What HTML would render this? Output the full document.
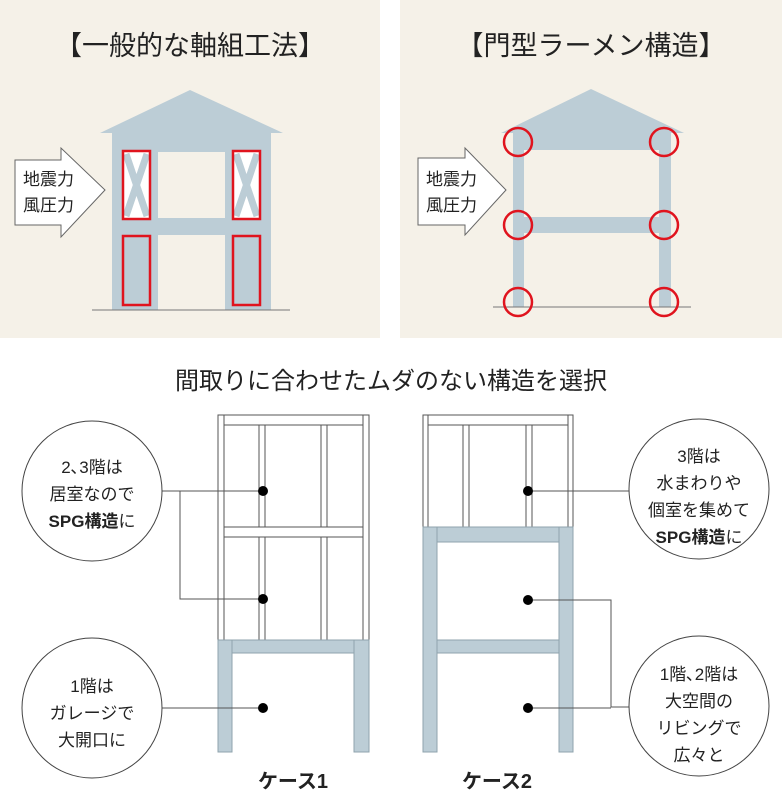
<!DOCTYPE html>
<html><head><meta charset="utf-8"><style>
html,body{margin:0;padding:0;background:#fff}
svg{display:block}
text{font-family:"Liberation Sans","Noto Sans CJK JP",sans-serif;fill:#222}
</style></head><body>
<svg width="782" height="802" viewBox="0 0 782 802" xmlns="http://www.w3.org/2000/svg">
<!-- panels -->
<rect x="0" y="0" width="380" height="338" fill="#f5f1e8"/>
<rect x="400" y="0" width="382" height="338" fill="#f5f1e8"/>
<text x="190" y="55" font-size="27" text-anchor="middle">【一般的な軸組工法】</text>
<text x="591" y="55" font-size="27" text-anchor="middle">【門型ラーメン構造】</text>

<!-- left house -->
<polygon points="100,133 190,90 283,133" fill="#bccdd6"/>
<rect x="112" y="132" width="159" height="178" fill="#bccdd6"/>
<rect x="158" y="152" width="67" height="66" fill="#f5f1e8"/>
<rect x="158" y="235" width="67" height="75" fill="#f5f1e8"/>
<rect x="123" y="151" width="27" height="68" fill="#fff"/>
<rect x="233" y="151" width="27" height="68" fill="#fff"/>
<path d="M126,154 L147,216 M147,154 L126,216 M236,154 L257,216 M257,154 L236,216" stroke="#bccdd6" stroke-width="7"/>
<g fill="none" stroke="#e0141e" stroke-width="2.5">
<rect x="123" y="151" width="27" height="68"/>
<rect x="233" y="151" width="27" height="68"/>
<rect x="123" y="236" width="27" height="69"/>
<rect x="233" y="236" width="27" height="69"/>
</g>
<line x1="92" y1="310" x2="290" y2="310" stroke="#777" stroke-width="1"/>
<polygon points="15,160 61,160 61,148 105,190 61,237 61,225 15,225" fill="#fff" stroke="#666" stroke-width="1"/>
<text x="23" y="185" font-size="17">地震力</text>
<text x="23" y="211" font-size="17">風圧力</text>

<!-- right house -->
<polygon points="501,133 591,89 684,133" fill="#bccdd6"/>
<rect x="513" y="132" width="158" height="18" fill="#bccdd6"/>
<rect x="513" y="132" width="11" height="175" fill="#bccdd6"/>
<rect x="659" y="132" width="12" height="175" fill="#bccdd6"/>
<rect x="524" y="217" width="135" height="16" fill="#bccdd6"/>
<line x1="493" y1="307" x2="691" y2="307" stroke="#777" stroke-width="1"/>
<g fill="none" stroke="#e0141e" stroke-width="2.5">
<circle cx="518" cy="142" r="14"/><circle cx="664" cy="142" r="14"/>
<circle cx="518" cy="225" r="14"/><circle cx="664" cy="225" r="14"/>
<circle cx="518" cy="302" r="14"/><circle cx="664" cy="302" r="14"/>
</g>
<polygon points="418,158 465,158 465,148 506,190 465,235 465,225 418,225" fill="#fff" stroke="#666" stroke-width="1"/>
<text x="426" y="185" font-size="17">地震力</text>
<text x="426" y="211" font-size="17">風圧力</text>

<text x="391" y="389" font-size="24" text-anchor="middle">間取りに合わせたムダのない構造を選択</text>

<!-- case 1 -->
<g fill="#fff" stroke="#555" stroke-width="1">
<rect x="218" y="415" width="151" height="10"/>
<rect x="218" y="415" width="6" height="225"/>
<rect x="363" y="415" width="6" height="225"/>
<rect x="259" y="425" width="6" height="215"/>
<rect x="321" y="425" width="6" height="215"/>
<rect x="224" y="527" width="139" height="10"/>
</g>
<g fill="#bccdd6" stroke="#8fa3ad" stroke-width="1">
<rect x="232" y="640" width="122" height="13"/>
<rect x="218" y="640" width="14" height="112"/>
<rect x="354" y="640" width="15" height="112"/>
</g>
<!-- case 2 -->
<g fill="#fff" stroke="#555" stroke-width="1">
<rect x="423" y="415" width="150" height="10"/>
<rect x="423" y="415" width="5" height="112"/>
<rect x="568" y="415" width="5" height="112"/>
<rect x="463" y="425" width="6" height="102"/>
<rect x="526" y="425" width="6" height="102"/>
</g>
<g fill="#bccdd6" stroke="#8fa3ad" stroke-width="1">
<rect x="437" y="527" width="122" height="15"/>
<rect x="437" y="640" width="122" height="13"/>
<rect x="423" y="527" width="14" height="225"/>
<rect x="559" y="527" width="14" height="225"/>
</g>

<!-- connectors -->
<g stroke="#555" stroke-width="1" fill="none">
<polyline points="162,491 263,491"/>
<polyline points="180,491 180,599 263,599"/>
<polyline points="162,708 263,708"/>
<polyline points="528,491 629,491"/>
<polyline points="528,600 611,600 611,707 629,707"/>
<polyline points="528,708 611,708"/>
</g>
<g fill="#000">
<circle cx="263" cy="491" r="5"/><circle cx="263" cy="599" r="5"/><circle cx="263" cy="708" r="5"/>
<circle cx="528" cy="491" r="5"/><circle cx="528" cy="600" r="5"/><circle cx="528" cy="708" r="5"/>
</g>

<!-- callout circles -->
<g fill="#fff" stroke="#444" stroke-width="1">
<circle cx="92" cy="491" r="70"/>
<circle cx="92" cy="708" r="70"/>
<circle cx="699" cy="489" r="70"/>
<circle cx="699" cy="706" r="70"/>
</g>
<g font-size="17" text-anchor="middle">
<text x="92" y="473">2､3階は</text>
<text x="92" y="500">居室なので</text>
<text x="92" y="527" font-weight="bold">SPG構造<tspan font-weight="normal">に</tspan></text>
<text x="92" y="692">1階は</text>
<text x="92" y="719">ガレージで</text>
<text x="92" y="746">大開口に</text>
<text x="699" y="462">3階は</text>
<text x="699" y="489">水まわりや</text>
<text x="699" y="516">個室を集めて</text>
<text x="699" y="543" font-weight="bold">SPG構造<tspan font-weight="normal">に</tspan></text>
<text x="699" y="680">1階､2階は</text>
<text x="699" y="707">大空間の</text>
<text x="699" y="734">リビングで</text>
<text x="699" y="761">広々と</text>
</g>
<text x="293" y="788" font-size="20" text-anchor="middle" font-weight="bold">ケース1</text>
<text x="497" y="788" font-size="20" text-anchor="middle" font-weight="bold">ケース2</text>
</svg>
</body></html>
